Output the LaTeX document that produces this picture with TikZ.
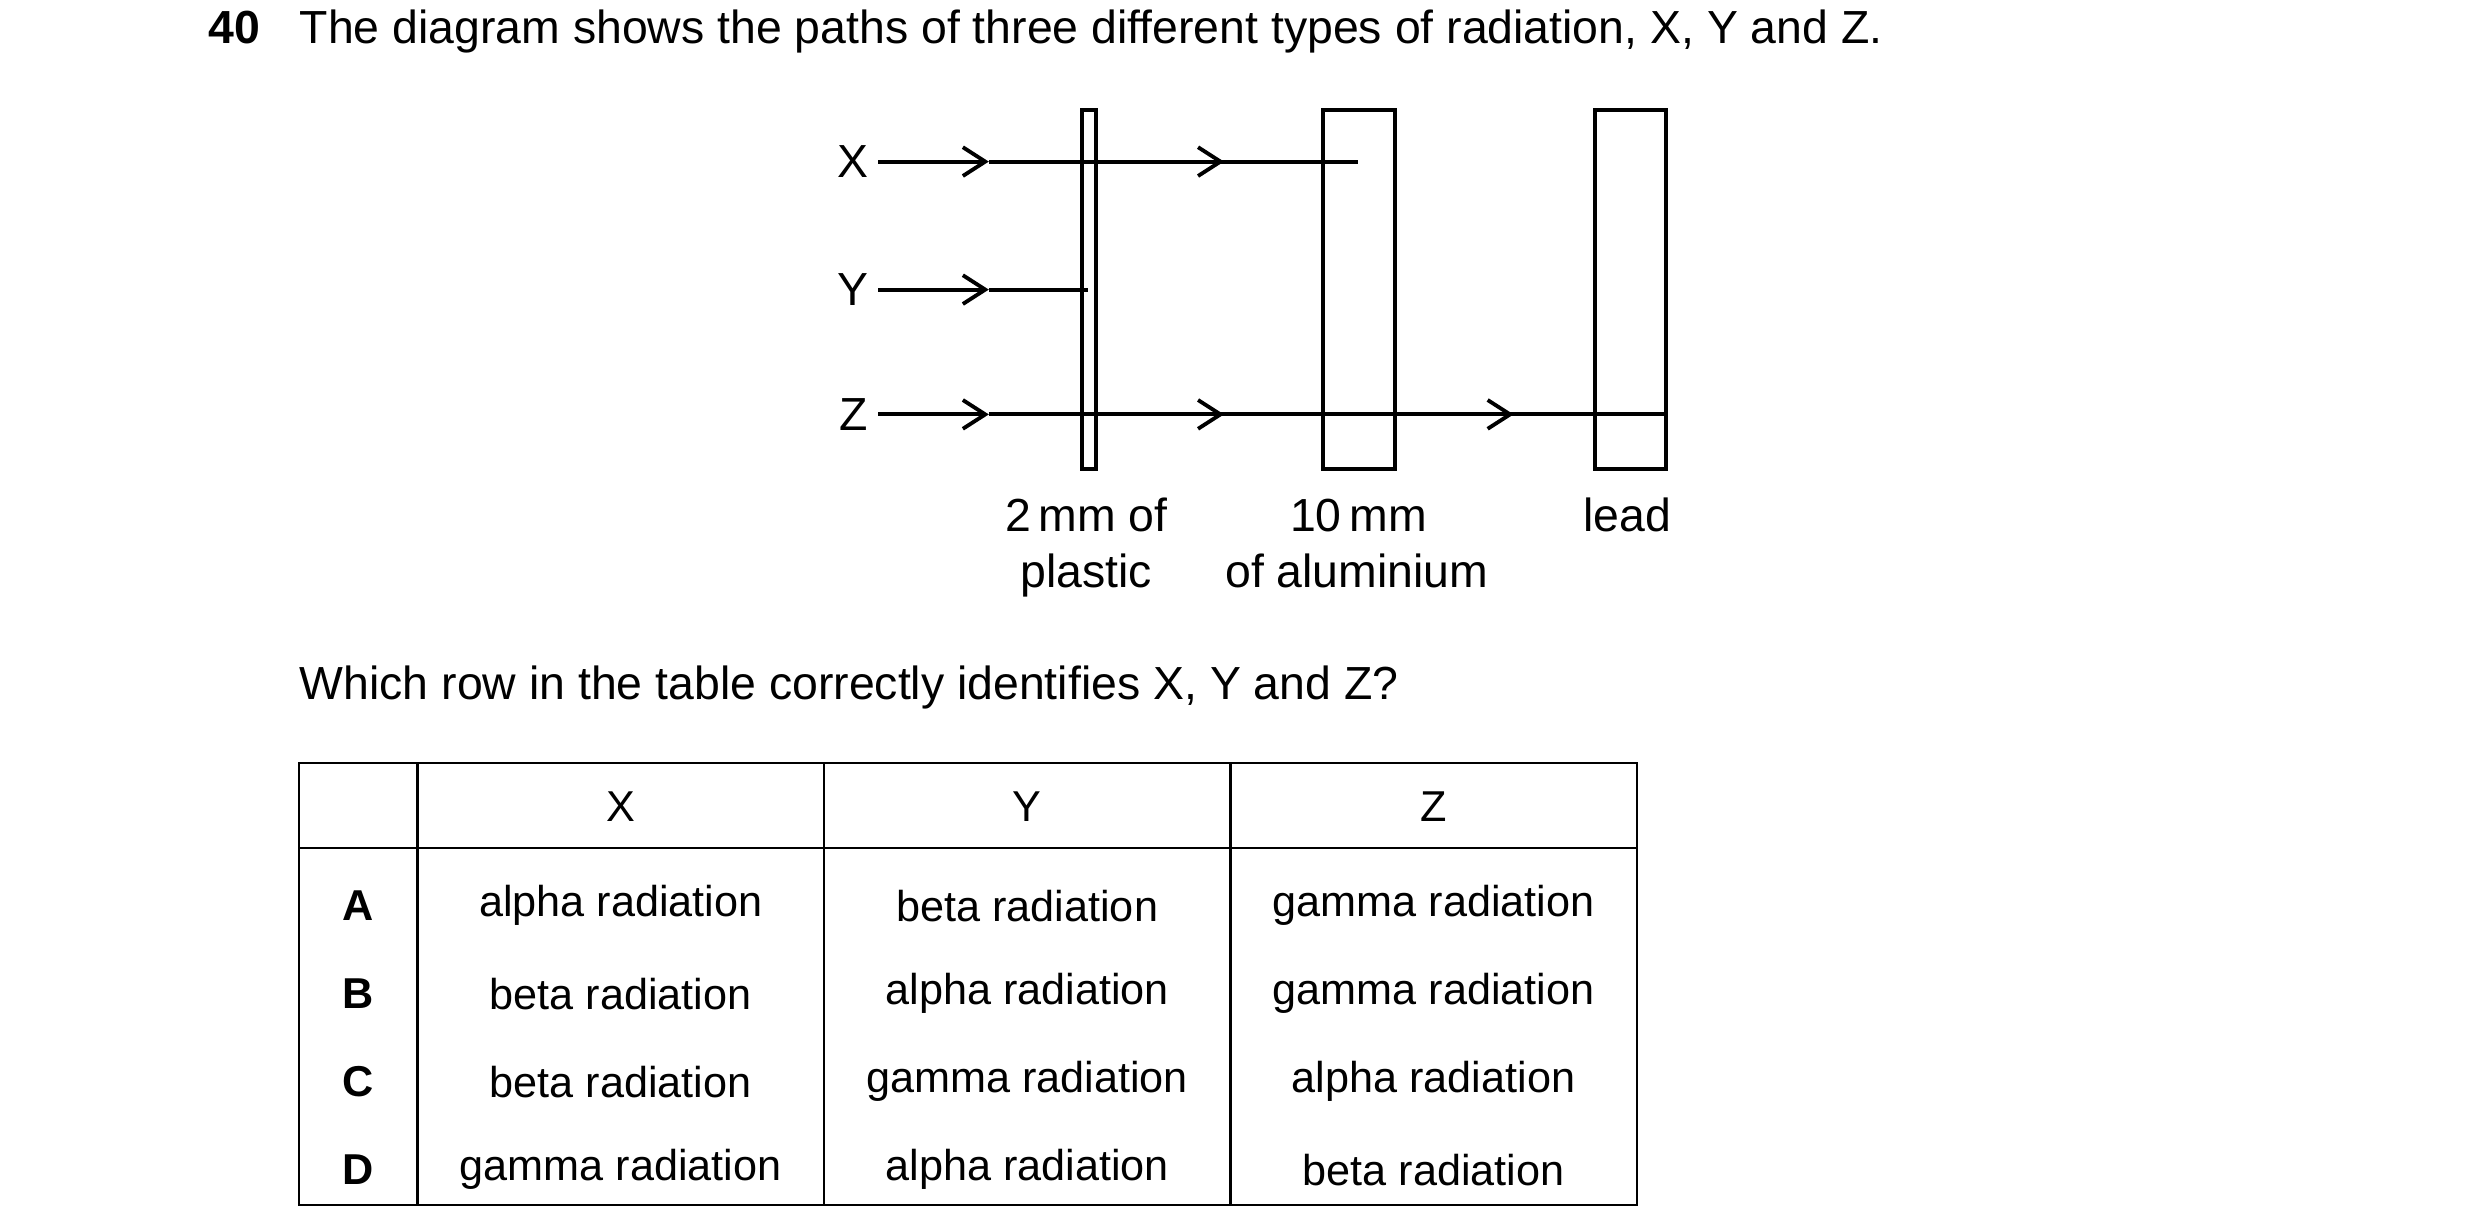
\documentclass[tikz,border=0pt]{standalone}
\usepackage{fontspec}
\setmainfont{Liberation Sans}
\usetikzlibrary{arrows.meta}
\begin{document}
\begin{tikzpicture}[x=0.5pt,y=-0.5pt,
  lab/.style={inner sep=0pt,font=\fontsize{14.5}{17}\selectfont},
  tx/.style={inner sep=0pt,font=\fontsize{13.5}{16}\selectfont},
  ray/.style={line width=1.2pt},
  mid/.style={line width=1.2pt,-{Straight Barb[length=7pt,width=9pt,line width=1.2pt]}},
  slab/.style={line width=1.3pt},
  grid/.style={line width=0.7pt}]
\useasboundingbox (0,0) rectangle (1550,760);
\node[lab,anchor=base west,font=\fontsize{14.5}{17}\bfseries] (n40) at (130,27) {40};
\node[lab,anchor=base west] (title) at (187,27) {The diagram shows the paths of three different types of radiation, X, Y and Z.};
% slabs
\draw[slab] (676,69) rectangle (685,293);
\draw[slab] (827,69) rectangle (872,293);
\draw[slab] (997,69) rectangle (1041,293);
% labels
\node[lab,anchor=east] (X) at (543,101) {X};
\node[lab,anchor=east] (Y) at (543,181) {Y};
\node[lab,anchor=east] (Z) at (543,259) {Z};
\coordinate (x1) at (618,101); \coordinate (x2) at (765,101); \coordinate (xe) at (849,101);
\coordinate (y1) at (618,181); \coordinate (ye) at (680,181);
\coordinate (z1) at (618,259); \coordinate (z2) at (765,259); \coordinate (z3) at (946,259); \coordinate (ze) at (1041,259);
\draw[mid] (X.east)++(6,0) -- (x1);
\draw[ray] (x1) -- (xe);
\draw[mid] (680,101) -- (x2);
\draw[mid] (Y.east)++(6,0) -- (y1);
\draw[ray] (y1) -- (ye);
\draw[mid] (Z.east)++(6,0) -- (z1);
\draw[ray] (z1) -- (ze);
\draw[mid] (680,259) -- (z2);
\draw[mid] (849,259) -- (z3);
\node[lab,anchor=base] (p1) at (679,332) {2\,mm of};
\node[lab,anchor=base] (p2) at (679,367) {plastic};
\node[lab,anchor=base] (a1) at (849,332) {10\,mm};
\node[lab,anchor=base] (a2) at (848,367) {of aluminium};
\node[lab,anchor=base] (l1) at (1017,332) {lead};
\node[lab,anchor=base west] (q) at (187,437) {Which row in the table correctly identifies X, Y and Z?};
% table
\draw[grid] (187,477) rectangle (1023,753);
\draw[grid] (187,530) -- (1023,530);
\foreach \c in {261,515,769} \draw[grid] (\c,477) -- (\c,753);
\node[tx] (hx) at (388,504) {X};
\node[tx] (hy) at (642,504) {Y};
\node[tx] (hz) at (896,504) {Z};
\foreach \r/\y/\a/\b/\cc in {A/566/alpha radiation/beta radiation/gamma radiation,
  B/621/beta radiation/alpha radiation/gamma radiation,
  C/676/beta radiation/gamma radiation/alpha radiation,
  D/731/gamma radiation/alpha radiation/beta radiation}{
  \node[tx,font=\fontsize{13.5}{16}\bfseries] (r\r) at (224,\y) {\r};
  \node[tx] (c1\r) at (388,\y) {\a};
  \node[tx] (c2\r) at (642,\y) {\b};
  \node[tx] (c3\r) at (896,\y) {\cc};
}
\end{tikzpicture}
\end{document}
